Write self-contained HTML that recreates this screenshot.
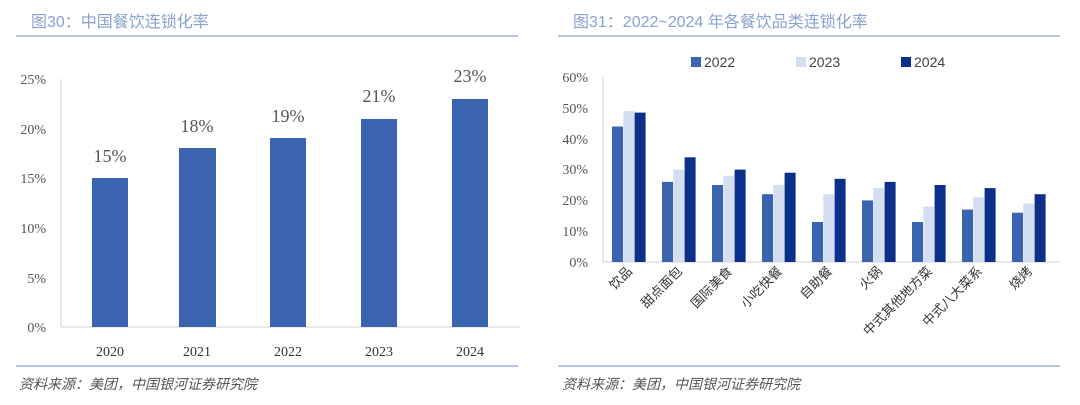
<!DOCTYPE html><html><head><meta charset="utf-8"><style>body{margin:0;background:#fff}svg{display:block}</style></head><body>
<svg width="1080" height="405" xmlns="http://www.w3.org/2000/svg" font-family="Liberation Serif, Noto Serif CJK SC, serif">
<g font-family="Liberation Sans, Noto Sans CJK SC, sans-serif" font-size="16" fill="#8aa2cf">
<text x="31" y="27">图30：中国餐饮连锁化率</text>
<text x="573" y="27">图31：2022~2024 年各餐饮品类连锁化率</text>
</g>
<line x1="16" y1="36" x2="518" y2="36" stroke="#9fb4da" stroke-width="1.5"/>
<line x1="558" y1="36" x2="1060" y2="36" stroke="#9fb4da" stroke-width="1.5"/>
<line x1="16" y1="366" x2="518" y2="366" stroke="#9fb4da" stroke-width="1.5"/>
<line x1="558" y1="366" x2="1060" y2="366" stroke="#9fb4da" stroke-width="1.5"/>
<g font-family="Liberation Sans, Noto Sans CJK SC, sans-serif" font-size="14" fill="#555" font-style="italic">
<text x="19" y="389">资料来源：美团，中国银河证券研究院</text>
<text x="562" y="389">资料来源：美团，中国银河证券研究院</text>
</g>
<!-- left chart -->
<line x1="61" y1="79" x2="61" y2="327" stroke="#d0d0d0"/>
<line x1="61" y1="327" x2="520" y2="327" stroke="#d0d0d0"/>
<g font-size="14" fill="#555" text-anchor="end">
<text x="46" y="332">0%</text><text x="46" y="283">5%</text><text x="46" y="233">10%</text>
<text x="46" y="183">15%</text><text x="46" y="134">20%</text><text x="46" y="84">25%</text>
</g>
<g fill="#3a64ad">
<rect x="92" y="178" width="36" height="149"/>
<rect x="179" y="148" width="37" height="179"/>
<rect x="270" y="138" width="36" height="189"/>
<rect x="361" y="119" width="36" height="208"/>
<rect x="452" y="99" width="36" height="228"/>
</g>
<g font-size="18" fill="#555" text-anchor="middle">
<text x="110" y="162">15%</text><text x="197" y="132">18%</text><text x="288" y="122">19%</text>
<text x="379" y="102">21%</text><text x="470" y="82">23%</text>
</g>
<g font-size="14" fill="#333" text-anchor="middle">
<text x="110" y="356">2020</text><text x="197" y="356">2021</text><text x="288" y="356">2022</text>
<text x="379" y="356">2023</text><text x="470" y="356">2024</text>
</g>
<!-- right chart -->
<line x1="603" y1="77" x2="603" y2="262" stroke="#d0d0d0"/>
<line x1="603" y1="262" x2="1060" y2="262" stroke="#d0d0d0"/>
<g font-size="14" fill="#555" text-anchor="end">
<text x="588" y="267">0%</text><text x="588" y="236">10%</text><text x="588" y="205">20%</text>
<text x="588" y="174">30%</text><text x="588" y="144">40%</text><text x="588" y="113">50%</text><text x="588" y="82">60%</text>
</g>
<g font-family="Liberation Sans, sans-serif" font-size="14" fill="#444">
<rect x="691" y="57" width="10" height="10" fill="#3a64ad"/><text x="704" y="67">2022</text>
<rect x="796" y="57" width="10" height="10" fill="#d3dff0"/><text x="809" y="67">2023</text>
<rect x="901" y="57" width="10" height="10" fill="#0c2f8a"/><text x="914" y="67">2024</text>
</g>
<g fill="#3a64ad">
<rect x="612" y="126.5" width="11" height="135.5"/>
<rect x="662" y="181.9" width="11" height="80.1"/>
<rect x="712" y="185" width="11" height="77"/>
<rect x="762" y="194.2" width="11" height="67.8"/>
<rect x="812" y="222" width="11" height="40"/>
<rect x="862" y="200.4" width="11" height="61.6"/>
<rect x="912" y="222" width="11" height="40"/>
<rect x="962" y="209.6" width="11" height="52.4"/>
<rect x="1012" y="212.7" width="11" height="49.3"/>
</g>
<g fill="#d3dff0">
<rect x="623.3" y="111.1" width="11" height="150.9"/>
<rect x="673.3" y="169.6" width="11" height="92.4"/>
<rect x="723.3" y="175.8" width="11" height="86.2"/>
<rect x="773.3" y="185" width="11" height="77"/>
<rect x="823.3" y="194.2" width="11" height="67.8"/>
<rect x="873.3" y="188.1" width="11" height="73.9"/>
<rect x="923.3" y="206.6" width="11" height="55.4"/>
<rect x="973.3" y="197.3" width="11" height="64.7"/>
<rect x="1023.3" y="203.5" width="11" height="58.5"/>
</g>
<g fill="#0c2f8a">
<rect x="634.6" y="112.6" width="11" height="149.4"/>
<rect x="684.6" y="157.3" width="11" height="104.7"/>
<rect x="734.6" y="169.6" width="11" height="92.4"/>
<rect x="784.6" y="172.7" width="11" height="89.3"/>
<rect x="834.6" y="178.8" width="11" height="83.2"/>
<rect x="884.6" y="181.9" width="11" height="80.1"/>
<rect x="934.6" y="185" width="11" height="77"/>
<rect x="984.6" y="188.1" width="11" height="73.9"/>
<rect x="1034.6" y="194.2" width="11" height="67.8"/>
</g>
<g font-family="Liberation Sans, Noto Sans CJK SC, sans-serif" font-size="13" fill="#333" text-anchor="end">
<text transform="translate(633,272) rotate(-45)">饮品</text>
<text transform="translate(683,272) rotate(-45)">甜点面包</text>
<text transform="translate(733,272) rotate(-45)">国际美食</text>
<text transform="translate(783,272) rotate(-45)">小吃快餐</text>
<text transform="translate(833,272) rotate(-45)">自助餐</text>
<text transform="translate(883,272) rotate(-45)">火锅</text>
<text transform="translate(933,272) rotate(-45)">中式其他地方菜</text>
<text transform="translate(983,272) rotate(-45)">中式八大菜系</text>
<text transform="translate(1033,272) rotate(-45)">烧烤</text>
</g>
</svg>
</body></html>
